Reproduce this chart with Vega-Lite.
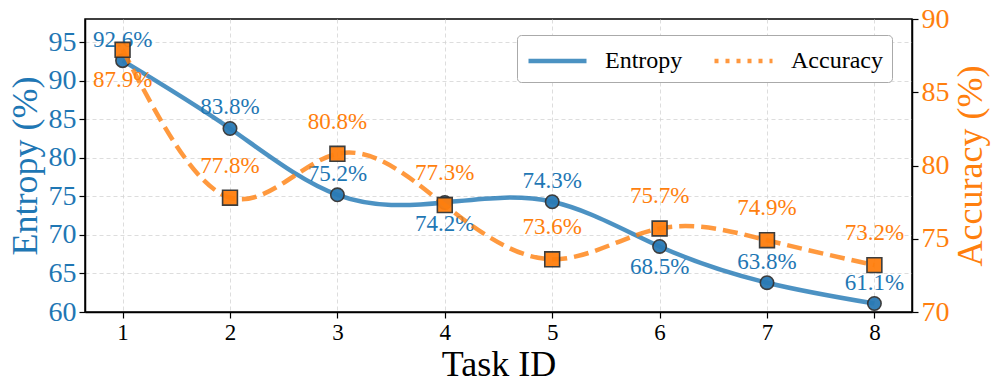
{
  "$schema": "https://vega.github.io/schema/vega-lite/v6.json",
  "autosize": {"type": "none"},
  "width": 827,
  "height": 293,
  "padding": {"left": 85, "top": 19, "right": 84, "bottom": 80},
  "background": "white",
  "config": {
    "font": "Liberation Serif",
    "mark": {"font": "Liberation Serif"},
    "text": {"font": "Liberation Serif"},
    "legend": {"labelFont": "Liberation Serif"},
    "view": {"stroke": "black", "strokeWidth": 1.5},
    "axis": {"labelFont": "Liberation Serif", "titleFont": "Liberation Serif", "titleFontWeight": "normal", "tickColor": "black", "domainColor": "black", "domainWidth": 1.5, "tickWidth": 1.2, "tickSize": 6, "gridColor": "#d4d4d4", "gridDash": [4, 3], "gridWidth": 0.8}
  },
  "data": {
    "values": [
      {"task": 1, "series": "Entropy", "value": 92.6, "label": "92.6%"},
      {"task": 2, "series": "Entropy", "value": 83.8, "label": "83.8%"},
      {"task": 3, "series": "Entropy", "value": 75.2, "label": "75.2%"},
      {"task": 4, "series": "Entropy", "value": 74.2, "label": "74.2%"},
      {"task": 5, "series": "Entropy", "value": 74.3, "label": "74.3%"},
      {"task": 6, "series": "Entropy", "value": 68.5, "label": "68.5%"},
      {"task": 7, "series": "Entropy", "value": 63.8, "label": "63.8%"},
      {"task": 8, "series": "Entropy", "value": 61.1, "label": "61.1%"},
      {"task": 1, "series": "Accuracy", "value": 87.9, "label": "87.9%"},
      {"task": 2, "series": "Accuracy", "value": 77.8, "label": "77.8%"},
      {"task": 3, "series": "Accuracy", "value": 80.8, "label": "80.8%"},
      {"task": 4, "series": "Accuracy", "value": 77.3, "label": "77.3%"},
      {"task": 5, "series": "Accuracy", "value": 73.6, "label": "73.6%"},
      {"task": 6, "series": "Accuracy", "value": 75.7, "label": "75.7%"},
      {"task": 7, "series": "Accuracy", "value": 74.9, "label": "74.9%"},
      {"task": 8, "series": "Accuracy", "value": 73.2, "label": "73.2%"}
    ]
  },
  "encoding": {
    "x": {
      "field": "task", "type": "quantitative",
      "scale": {"domain": [0.65, 8.35], "nice": false, "zero": false},
      "axis": {"values": [1, 2, 3, 4, 5, 6, 7, 8], "title": "Task ID", "titleFontSize": 36, "labelFontSize": 23, "labelColor": "black", "titleColor": "black", "titlePadding": 3, "labelPadding": 3, "grid": true}
    }
  },
  "layer": [
    {
      "transform": [{"filter": "datum.series === 'Entropy'"}],
      "encoding": {
        "y": {
          "field": "value", "type": "quantitative",
          "scale": {"domain": [60, 98], "nice": false, "zero": false},
          "axis": {"orient": "left", "values": [60, 65, 70, 75, 80, 85, 90, 95], "title": "Entropy (%)", "titleFontSize": 36, "titleColor": "#1f77b4", "labelColor": "#1f77b4", "labelFontSize": 28, "labelPadding": 3, "titlePadding": 4, "grid": true}
        }
      },
      "layer": [
        {
          "mark": {"type": "line", "interpolate": "natural", "strokeWidth": 4.5, "opacity": 0.8},
          "encoding": {
            "color": {"field": "series", "type": "nominal", "scale": {"domain": ["Entropy", "Accuracy"], "range": ["#1f77b4", "#ff7f0e"]},
              "legend": {"title": null, "orient": "none", "legendX": 432, "legendY": 16, "direction": "horizontal", "symbolType": "M-1,0H3", "symbolSize": 841, "symbolStrokeWidth": 4.5, "symbolOpacity": 0.8, "symbolFillColor": "transparent", "labelFontSize": 24, "labelColor": "black", "labelOffset": 45, "columnPadding": 22, "padding": 9, "fillColor": "white", "strokeColor": "#aaaaaa", "cornerRadius": 4,
                "encode": {"symbols": {"update": {"strokeDash": {"signal": "datum.value === 'Accuracy' ? [4, 7] : [1, 0]"}}}}}
            }
          }
        },
        {
          "mark": {"type": "point", "shape": "circle", "filled": true, "size": 180, "color": "#2a7ab5", "stroke": "#333333", "strokeWidth": 1.6, "opacity": 0.95}
        },
        {
          "transform": [{"filter": "datum.task !== 4 && datum.task !== 6"}],
          "mark": {"type": "text", "dy": -21, "fontSize": 23, "font": "Liberation Serif", "color": "#1f77b4", "baseline": "middle", "align": "center"},
          "encoding": {"text": {"field": "label"}}
        },
        {
          "transform": [{"filter": "datum.task === 4 || datum.task === 6"}],
          "mark": {"type": "text", "dy": 21, "fontSize": 23, "font": "Liberation Serif", "color": "#1f77b4", "baseline": "middle", "align": "center"},
          "encoding": {"text": {"field": "label"}}
        }
      ]
    },
    {
      "transform": [{"filter": "datum.series === 'Accuracy'"}],
      "encoding": {
        "y": {
          "field": "value", "type": "quantitative",
          "scale": {"domain": [70, 90], "nice": false, "zero": false},
          "axis": {"orient": "right", "values": [70, 75, 80, 85, 90], "title": "Accuracy (%)", "titleAngle": 270, "titleBaseline": "top", "titleFontSize": 36, "titleColor": "#ff7f0e", "labelColor": "#ff7f0e", "labelFontSize": 28, "labelPadding": 3, "titlePadding": 4, "grid": false}
        }
      },
      "layer": [
        {
          "mark": {"type": "line", "interpolate": "natural", "strokeWidth": 4.5, "opacity": 0.8, "strokeDash": [15, 7]},
          "encoding": {
            "color": {"field": "series", "type": "nominal"}
          }
        },
        {
          "mark": {"type": "point", "shape": "square", "filled": true, "size": 220, "color": "#ff7f0e", "stroke": "#333333", "strokeWidth": 1.6, "opacity": 0.95}
        },
        {
          "transform": [{"filter": "datum.task !== 1"}],
          "mark": {"type": "text", "dy": -32, "fontSize": 23, "font": "Liberation Serif", "color": "#ff7f0e", "baseline": "middle", "align": "center"},
          "encoding": {"text": {"field": "label"}}
        },
        {
          "transform": [{"filter": "datum.task === 1"}],
          "mark": {"type": "text", "dy": 30, "fontSize": 23, "font": "Liberation Serif", "color": "#ff7f0e", "baseline": "middle", "align": "center"},
          "encoding": {"text": {"field": "label"}}
        }
      ]
    }
  ],
  "resolve": {"scale": {"y": "independent"}}
}
